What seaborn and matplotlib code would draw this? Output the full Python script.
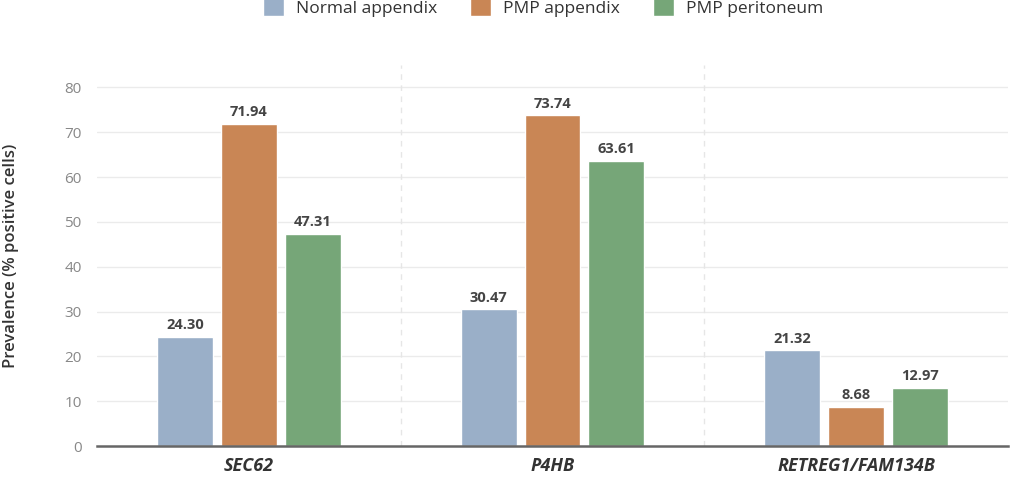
import numpy as np
import pandas as pd
import seaborn as sns
import matplotlib.pyplot as plt

genes = ['SEC62', 'P4HB', 'RETREG1/FAM134B']
groups = ['Normal appendix', 'PMP appendix', 'PMP peritoneum']
normal_appendix = [24.30, 30.47, 21.32]
pmp_appendix = [71.94, 73.74, 8.68]
pmp_peritoneum = [47.31, 63.61, 12.97]
colors = ['#9aafc8', '#c98655', '#76a678']

df = pd.DataFrame({
    'Gene': genes * 3,
    'Group': np.repeat(groups, 3),
    'Value': normal_appendix + pmp_appendix + pmp_peritoneum,
})

sns.set_style('white')
plt.rcParams['font.family'] = ['Open Sans', 'DejaVu Sans']

fig = plt.figure(figsize=(10.11, 4.87), dpi=100)
ax = fig.add_axes([97 / 1011, 41 / 487, 911 / 1011, 381 / 487])

sns.barplot(df, x='Gene', y='Value', hue='Group', palette=colors,
            width=0.63, gap=0.125, saturation=1.0, ax=ax, legend=True)

for c in ax.containers:
    ax.bar_label(c, fmt='%.2f', padding=3.5, fontsize=10.5, fontweight='bold', color='#444444')

ax.set_ylim(0, 85)
ax.set_xlim(-0.5, 2.5)
ax.set_yticks(np.arange(0, 81, 10))
for y in np.arange(10, 81, 10):
    ax.axhline(y, color='#ebebeb', lw=1, zorder=0)
for x in [0.5, 1.5]:
    ax.axvline(x, color='#e6e6e6', lw=1, ls=(0, (4, 4)), zorder=0)

for s in ['top', 'right', 'left']:
    ax.spines[s].set_visible(False)
ax.spines['bottom'].set_color('#666666')
ax.spines['bottom'].set_linewidth(1.8)

ax.tick_params(axis='y', length=0, labelsize=11, labelcolor='#888888', pad=11)
ax.tick_params(axis='x', length=0, pad=8)
for lab in ax.get_xticklabels():
    lab.set_fontstyle('italic')
    lab.set_fontweight('bold')
    lab.set_fontsize(13)
    lab.set_color('#333333')

ax.set_xlabel('')
ax.set_ylabel('Prevalence (% positive cells)', fontsize=12, fontweight='semibold', color='#333333', labelpad=33)

# legend sits near the top edge of the figure, roughly over the plot area
handles, labels = ax.get_legend_handles_labels()
ax.legend(handles, labels, loc='upper center', bbox_to_anchor=(543 / 1011, 1.018), bbox_transform=fig.transFigure,
          ncol=3, frameon=False, fontsize=12.5, handlelength=1.2, handleheight=1.2,
          columnspacing=1.9, handletextpad=0.7, borderaxespad=0.0, labelcolor='#333333')

fig.savefig('out.png', dpi=100)
